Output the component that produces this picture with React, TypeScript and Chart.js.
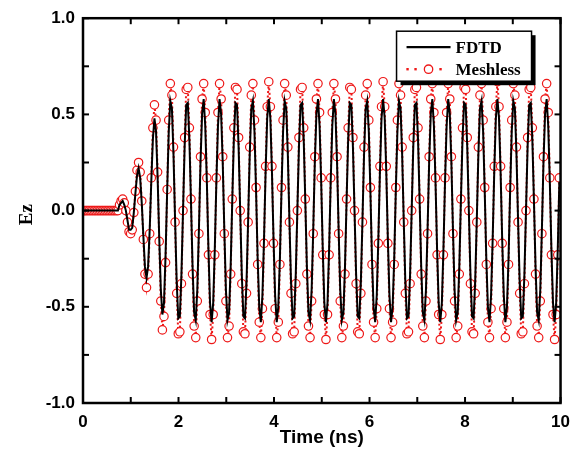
import React, { useEffect, useRef } from "react";
import { Chart, registerables } from "chart.js";

Chart.register(...registerables);

// Sampling step of the time axis (ns)
const DT = 0.03325;

// Meshless Ez samples
const MESHLESS_EZ: number[] = [
  0, 0, 0, 0, 0, 0, 0, 0, 0, 0, 0, 0, 0, 0, 0, 0, 0, 0, 0, 0, 0, 0, 0,
  0.03, 0.05, 0.06, 0.04, 0, -0.06, -0.11, -0.12, -0.1, -0.01, 0.1, 0.21, 0.25, 0.2, 0.05, -0.15, -0.33, -0.4,
  -0.33, -0.12, 0.17, 0.43, 0.55, 0.47, 0.2, -0.16, -0.47, -0.62, -0.55, -0.27, 0.11, 0.47,
  0.66, 0.6, 0.33, -0.06, -0.43, -0.64, -0.63, -0.38, 0, 0.38, 0.63, 0.64, 0.43, 0.06, -0.33, -0.6, -0.66,
  -0.47, -0.12, 0.28, 0.58, 0.66, 0.51, 0.17, -0.23, -0.54, -0.67,
  -0.54, -0.23, 0.17, 0.51, 0.66, 0.58, 0.28, -0.12, -0.47, -0.66,
  -0.6, -0.33, 0.06, 0.43, 0.64, 0.63, 0.38, 0, -0.38, -0.63,
  -0.64, -0.43, -0.06, 0.33, 0.6, 0.66, 0.47, 0.12, -0.28, -0.58,
  -0.66, -0.51, -0.17, 0.23, 0.54, 0.67, 0.54, 0.23, -0.17, -0.51,
  -0.66, -0.58, -0.28, 0.12, 0.47, 0.66, 0.6, 0.33, -0.06, -0.43,
  -0.64, -0.63, -0.38, 0, 0.38, 0.63, 0.64, 0.43, 0.06, -0.33,
  -0.6, -0.66,
  -0.47, -0.12, 0.28, 0.58, 0.66, 0.51, 0.17, -0.23, -0.54, -0.67,
  -0.54, -0.23, 0.17, 0.51, 0.66, 0.58, 0.28, -0.12, -0.47, -0.66,
  -0.6, -0.33, 0.06, 0.43, 0.64, 0.63, 0.38, 0, -0.38, -0.63,
  -0.64, -0.43, -0.06, 0.33, 0.6, 0.66, 0.47, 0.12, -0.28, -0.58,
  -0.66, -0.51, -0.17, 0.23, 0.54, 0.67, 0.54, 0.23, -0.17, -0.51,
  -0.66, -0.58, -0.28, 0.12, 0.47, 0.66, 0.6, 0.33, -0.06, -0.43,
  -0.64, -0.63, -0.38, 0, 0.38, 0.63, 0.64, 0.43, 0.06, -0.33,
  -0.6, -0.66,
  -0.47, -0.12, 0.28, 0.58, 0.66, 0.51, 0.17, -0.23, -0.54, -0.67,
  -0.54, -0.23, 0.17, 0.51, 0.66, 0.58, 0.28, -0.12, -0.47, -0.66,
  -0.6, -0.33, 0.06, 0.43, 0.64, 0.63, 0.38, 0, -0.38, -0.63,
  -0.64, -0.43, -0.06, 0.33, 0.6, 0.66, 0.47, 0.12, -0.28, -0.58,
  -0.66, -0.51, -0.17, 0.23, 0.54, 0.67, 0.54, 0.23, -0.17, -0.51,
  -0.66, -0.58, -0.28, 0.12, 0.47, 0.66, 0.6, 0.33, -0.06, -0.43,
  -0.64, -0.63, -0.38, 0, 0.38, 0.63, 0.64, 0.43, 0.06, -0.33,
  -0.6, -0.66,
  -0.47, -0.12, 0.28, 0.58, 0.66, 0.51, 0.17, -0.23, -0.54, -0.67, -0.54, -0.23, 0.17,
];

// FDTD Ez values
const FDTD_EZ: number[] = [
  0, 0, 0, 0, 0, 0, 0, 0, 0, 0, 0, 0, 0, 0, 0, 0, 0, 0, 0, 0, 0, 0, 0,
  0.03, 0.04, 0.05, 0.03, 0, -0.05, -0.1, -0.1, -0.09, -0.01, 0.09, 0.18, 0.22, 0.17, 0.04, -0.13, -0.29, -0.35,
  -0.29, -0.1, 0.15, 0.37, 0.48, 0.41, 0.17, -0.14, -0.41, -0.54, -0.48, -0.23, 0.1, 0.41,
  0.57, 0.53, 0.29, -0.05, -0.37, -0.56, -0.55, -0.33, 0, 0.33, 0.55, 0.56, 0.37, 0.05, -0.29, -0.53, -0.57,
  -0.41, -0.1, 0.25, 0.5, 0.58, 0.44, 0.15, -0.2, -0.48, -0.58,
  -0.48, -0.2, 0.15, 0.44, 0.58, 0.5, 0.25, -0.1, -0.41, -0.57,
  -0.53, -0.29, 0.05, 0.37, 0.56, 0.55, 0.33, 0, -0.33, -0.55,
  -0.56, -0.37, -0.05, 0.29, 0.53, 0.57, 0.41, 0.1, -0.25, -0.5,
  -0.58, -0.44, -0.15, 0.2, 0.48, 0.58, 0.48, 0.2, -0.15, -0.44,
  -0.58, -0.5, -0.25, 0.1, 0.41, 0.57, 0.53, 0.29, -0.05, -0.37,
  -0.56, -0.55, -0.33, 0, 0.33, 0.55, 0.56, 0.37, 0.05, -0.29,
  -0.53, -0.57,
  -0.41, -0.1, 0.25, 0.5, 0.58, 0.44, 0.15, -0.2, -0.48, -0.58,
  -0.48, -0.2, 0.15, 0.44, 0.58, 0.5, 0.25, -0.1, -0.41, -0.57,
  -0.53, -0.29, 0.05, 0.37, 0.56, 0.55, 0.33, 0, -0.33, -0.55,
  -0.56, -0.37, -0.05, 0.29, 0.53, 0.57, 0.41, 0.1, -0.25, -0.5,
  -0.58, -0.44, -0.15, 0.2, 0.48, 0.58, 0.48, 0.2, -0.15, -0.44,
  -0.58, -0.5, -0.25, 0.1, 0.41, 0.57, 0.53, 0.29, -0.05, -0.37,
  -0.56, -0.55, -0.33, 0, 0.33, 0.55, 0.56, 0.37, 0.05, -0.29,
  -0.53, -0.57,
  -0.41, -0.1, 0.25, 0.5, 0.58, 0.44, 0.15, -0.2, -0.48, -0.58,
  -0.48, -0.2, 0.15, 0.44, 0.58, 0.5, 0.25, -0.1, -0.41, -0.57,
  -0.53, -0.29, 0.05, 0.37, 0.56, 0.55, 0.33, 0, -0.33, -0.55,
  -0.56, -0.37, -0.05, 0.29, 0.53, 0.57, 0.41, 0.1, -0.25, -0.5,
  -0.58, -0.44, -0.15, 0.2, 0.48, 0.58, 0.48, 0.2, -0.15, -0.44,
  -0.58, -0.5, -0.25, 0.1, 0.41, 0.57, 0.53, 0.29, -0.05, -0.37,
  -0.56, -0.55, -0.33, 0, 0.33, 0.55, 0.56, 0.37, 0.05, -0.29,
  -0.53, -0.57,
  -0.41, -0.1, 0.25, 0.5, 0.58, 0.44, 0.15, -0.2, -0.48, -0.58, -0.48, -0.2, 0.15,
];

const SERIES_LABELS = ["FDTD", "Meshless"];
const X_TITLE = "Time (ns)";
const Y_TITLE = "Ez";
const X_LABELED_TICKS = [0, 2, 4, 6, 8, 10];
const Y_LABELED_TICKS = [-1, -0.5, 0, 0.5, 1];

const RED = "rgb(238,24,24)";
const SANS = '"Liberation Sans", Arial, sans-serif';
const SERIF = '"Liberation Serif", "Times New Roman", serif';

const decorPlugin = {
  id: "decor",
  afterDatasetsDraw(chart: any) {
    const { ctx, chartArea, scales } = chart;
    const { left, right, top, bottom } = chartArea;
    const x = scales.x;
    const y = scales.y;
    ctx.save();
    const line = (x1: number, y1: number, x2: number, y2: number) => {
      ctx.beginPath();
      ctx.moveTo(x1, y1);
      ctx.lineTo(x2, y2);
      ctx.stroke();
    };
    // inward ticks
    ctx.strokeStyle = "#000";
    ctx.lineWidth = 2;
    const L = 6;
    x.ticks.forEach((t: any) => {
      const px = x.getPixelForValue(t.value);
      line(px, bottom, px, bottom - L);
      line(px, top, px, top + L);
    });
    y.ticks.forEach((t: any) => {
      const py = y.getPixelForValue(t.value);
      line(left, py, left + L, py);
      line(right, py, right - L, py);
    });
    // frame
    ctx.lineWidth = 2.5;
    ctx.strokeRect(left, top, right - left, bottom - top);

    // legend box
    const bx = right - 164;
    const by = top + 13;
    const bw = 135;
    const bh = 50;
    ctx.fillStyle = "#000";
    ctx.fillRect(bx + 4, by + 4, bw, bh);
    ctx.fillStyle = "#fff";
    ctx.fillRect(bx, by, bw, bh);
    ctx.lineWidth = 1.5;
    ctx.strokeStyle = "#000";
    ctx.strokeRect(bx, by, bw, bh);

    const r1 = by + 16;
    const r2 = by + 38;
    ctx.lineWidth = 2.2;
    line(bx + 10, r1, bx + 54, r1);
    ctx.fillStyle = RED;
    [11, 19, 44].forEach((dx) => ctx.fillRect(bx + dx - 1.2, r2 - 1.2, 2.4, 2.4));
    ctx.beginPath();
    ctx.arc(bx + 32, r2, 4.2, 0, Math.PI * 2);
    ctx.fillStyle = "#fff";
    ctx.fill();
    ctx.strokeStyle = RED;
    ctx.lineWidth = 1.3;
    ctx.stroke();

    ctx.fillStyle = "#000";
    ctx.font = `bold 17px ${SERIF}`;
    ctx.textAlign = "left";
    ctx.textBaseline = "alphabetic";
    ctx.fillText(chart.data.datasets[0].label, bx + 59, r1 + 6);
    ctx.fillText(chart.data.datasets[1].label, bx + 59, r2 + 6);

    // axis titles
    ctx.font = `bold 19px ${SANS}`;
    ctx.textAlign = "center";
    ctx.textBaseline = "middle";
    ctx.fillText(X_TITLE, (left + right) / 2, bottom + 35);
    ctx.save();
    ctx.translate(27, (top + bottom) / 2 + 4);
    ctx.rotate(-Math.PI / 2);
    ctx.font = `bold 19px ${SERIF}`;
    ctx.fillText(Y_TITLE, 0, 0);
    ctx.restore();
    ctx.restore();
  },
};

export default function App() {
  const ref = useRef<HTMLCanvasElement | null>(null);
  useEffect(() => {
    document.body.style.margin = "0";
    const canvas = ref.current;
    if (!canvas) return;
    const times = MESHLESS_EZ.map((_, i) => i * DT);
    const chart = new Chart(canvas, {
      type: "line",
      data: {
        datasets: [
          {
            label: SERIES_LABELS[0],
            data: FDTD_EZ.map((v, i) => ({ x: times[i], y: v })),
            borderColor: "#000",
            borderWidth: 2,
            pointRadius: 0,
            tension: 0,
          },
          {
            label: SERIES_LABELS[1],
            data: MESHLESS_EZ.map((v, i) => ({ x: times[i], y: v })),
            borderColor: RED,
            borderWidth: 2,
            borderDash: [2, 2.5],
            pointRadius: 4.2,
            pointBorderWidth: 1.2,
            pointBorderColor: RED,
            pointBackgroundColor: "#fff",
            tension: 0,
          },
        ],
      },
      options: {
        animation: false,
        responsive: false,
        maintainAspectRatio: false,
        layout: { padding: { left: 0, top: 14, right: 17, bottom: 0 } },
        plugins: { legend: { display: false }, tooltip: { enabled: false } },
        scales: {
          x: {
            type: "linear",
            min: 0,
            max: 10,
            grid: { display: false, drawTicks: false },
            border: { display: false },
            ticks: {
              stepSize: 1,
              autoSkip: false,
              maxRotation: 0,
              padding: 9,
              color: "#000",
              font: { family: SANS, size: 17, weight: "bold" },
              callback: (v: any) => (X_LABELED_TICKS.includes(Number(v)) ? String(v) : ""),
            },
            afterFit: (s: any) => {
              s.height = 53;
            },
          },
          y: {
            type: "linear",
            min: -1,
            max: 1,
            grid: { display: false, drawTicks: false },
            border: { display: false },
            ticks: {
              stepSize: 0.25,
              autoSkip: false,
              padding: 8,
              color: "#000",
              font: { family: SANS, size: 17, weight: "bold" },
              callback: (v: any) =>
                Y_LABELED_TICKS.some((t) => Math.abs(t - Number(v)) < 1e-9) ? Number(v).toFixed(1) : "",
            },
            afterFit: (s: any) => {
              s.width = 83;
            },
          },
        },
      },
      plugins: [decorPlugin],
    });
    return () => chart.destroy();
  }, []);
  return <canvas ref={ref} width={579} height={456} style={{ display: "block", width: 579, height: 456 }} />;
}
